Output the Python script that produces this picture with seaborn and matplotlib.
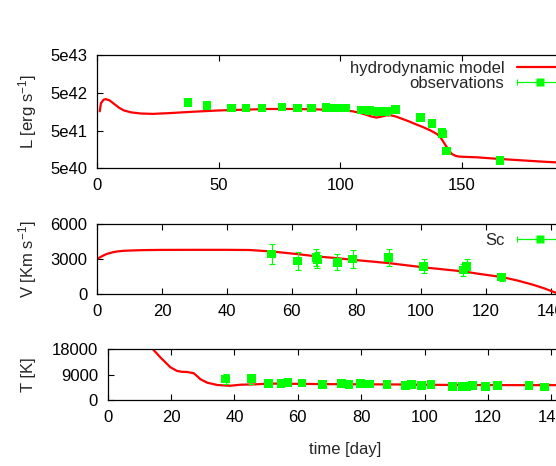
import numpy as np
import matplotlib
matplotlib.use("Agg")
import matplotlib.pyplot as plt
import matplotlib.transforms as mtransforms
from matplotlib.lines import Line2D
from matplotlib.legend_handler import HandlerErrorbar
import seaborn as sns

# ---------------- data ----------------
# Luminosity panel
model_L_day = [1.0, 1.5, 2.5, 3.5, 5, 7, 9, 11, 14, 18, 23, 30, 40, 50, 60, 70, 80, 90, 100,
               105, 108, 111, 113, 115, 117, 119, 121, 123, 125, 128, 131, 134, 137, 140,
               141.5, 143, 144.5, 146, 147.5, 149, 152, 156, 165, 175, 185, 200]
model_L = [1.62e42, 2.63e42, 3.24e42, 3.39e42, 3.16e42, 2.51e42, 2.0e42, 1.70e42, 1.51e42,
           1.41e42, 1.38e42, 1.45e42, 1.58e42, 1.70e42, 1.78e42, 1.86e42, 1.86e42, 1.82e42,
           1.72e42, 1.62e42, 1.48e42, 1.29e42, 1.17e42, 1.10e42, 1.17e42, 1.26e42, 1.26e42,
           1.17e42, 1.05e42, 8.9e41, 7.4e41, 6.2e41, 5.1e41, 4.0e41, 3.16e41, 2.24e41,
           1.58e41, 1.20e41, 1.07e41, 1.02e41, 1.0e41, 9.8e40, 8.9e40, 8.1e40, 7.4e40, 6.6e40]
obs_L_day = [37.3, 45.2, 55.0, 55.5, 61.3, 67.9, 76.1, 82.2, 82.6, 88.2, 94.1, 97.0, 100.0,
             102.1, 108.7, 112.0, 115.3, 119.1, 122.9, 133.1, 137.9, 142.0, 142.2, 143.8, 165.8]
obs_L = [2.75e42, 2.34e42, 2.0e42, 1.98e42, 2.0e42, 2.0e42, 2.09e42, 2.0e42, 1.95e42, 1.95e42,
         2.04e42, 1.95e42, 1.95e42, 2.0e42, 1.74e42, 1.70e42, 1.62e42, 1.62e42, 1.82e42,
         1.12e42, 7.6e41, 4.5e41, 4.0e41, 1.45e41, 8.1e40]

# Velocity panel
model_V_day = [0, 1, 2, 3, 4.5, 6, 8, 10.5, 14, 20, 30, 40, 47, 54, 62, 68, 74, 79, 90, 101,
               113, 118, 125, 130, 134.5, 138, 140.7, 142.5, 143.5]
model_V = [3030, 3180, 3330, 3450, 3570, 3650, 3710, 3740, 3770, 3790, 3795, 3795, 3780, 3651,
           3425, 3227, 3085, 2944, 2661, 2293, 1953, 1740, 1472, 1160, 820, 510, 226, 40, 0]
obs_V_day = [53.8, 61.9, 67.6, 68.0, 74.1, 78.9, 90.0, 100.8, 112.9, 114.1, 124.9]
obs_V = [3450, 2830, 3150, 2950, 2720, 3030, 3140, 2380, 2090, 2380, 1470]
obs_V_err = [880, 740, 750, 700, 680, 750, 760, 600, 520, 600, 300]

# Temperature panel
model_T_day = [12, 14.3, 16.6, 19.8, 21.9, 23.5, 25.1, 27.2, 29.3, 31.4, 34.6, 38.5, 42, 46,
               51, 60, 70, 90, 110, 130, 150]
model_T = [21000, 18000, 15180, 11650, 10340, 10050, 9990, 9530, 7410, 6210, 5400, 5130, 5500,
           5600, 5900, 5800, 5700, 5600, 5400, 5350, 5350]
obs_T_day = [37.2, 45.3, 50.7, 54.7, 55.5, 56.9, 61.3, 67.8, 73.7, 76.2, 79.8, 81.2, 82.7, 88.2,
             93.9, 95.8, 99.1, 102.0, 108.9, 111.9, 113.4, 115.1, 119.2, 123.1, 133.0, 137.9]
obs_T = [7510, 7630, 5960, 5960, 6080, 6320, 6080, 5600, 5960, 5480, 5960, 5720, 5720, 5600,
         5245, 5480, 5245, 5600, 4890, 4890, 4890, 5245, 4890, 5245, 5130, 4650]
obs_T_err = [1750, 1800, 500, 500, 500, 500, 500, 500, 500, 500, 500, 500, 500, 500,
             500, 500, 500, 500, 500, 500, 500, 500, 500, 500, 500, 500]

L_ticks = [5e40, 5e41, 5e42, 5e43]
L_ticklabels = ["5e40", "5e41", "5e42", "5e43"]
V_ticks = [0, 3000, 6000]
T_ticks = [0, 9000, 18000]

# ---------------- style ----------------
sns.set_style("ticks")
plt.rcParams["font.family"] = ["Liberation Sans", "DejaVu Sans"]
plt.rcParams["mathtext.default"] = "regular"
plt.rcParams["font.size"] = 12

RED = "#ff0000"
GREEN = "#00ff00"
W, H = 556, 466

fig = plt.figure(figsize=(W / 100, H / 100), dpi=100)
fig.patch.set_facecolor("white")


def add_ax(left, right, top, bottom):
    return fig.add_axes([left / W, 1 - bottom / H, (right - left) / W, (bottom - top) / H])


ax1 = add_ax(97.3, 583, 55, 168.3)
ax2 = add_ax(97.3, 583, 224, 294.3)
ax3 = add_ax(107.7, 583, 349.3, 400.3)

for ax in (ax1, ax2, ax3):
    ax.tick_params(direction="in", length=4, width=0.8, top=True, right=True,
                   labelsize=12, pad=7, colors="black")
    for s in ax.spines.values():
        s.set_linewidth(0.9)
        s.set_color("black")
    ax.set_facecolor("white")

MS = 38

# ---- top: luminosity ----
sns.lineplot(x=model_L_day, y=model_L, ax=ax1, color=RED, lw=1.6, sort=False,
             estimator=None, legend=False, zorder=2)
sns.scatterplot(x=obs_L_day, y=obs_L, ax=ax1, marker="s", s=MS, color=GREEN,
                edgecolor="none", linewidth=0, zorder=3, legend=False)
ax1.set_yscale("log")
ax1.set_xlim(0, 200)
ax1.set_ylim(5e40, 5e43)
ax1.set_xticks([0, 50, 100, 150, 200])
ax1.set_yticks(L_ticks)
ax1.set_yticklabels(L_ticklabels)
ax1.yaxis.set_minor_locator(matplotlib.ticker.NullLocator())
ax1.set_xlabel("")
ax1.set_ylabel("L [erg s$^{-1}$]", fontsize=12)

# ---- middle: velocity ----
sns.lineplot(x=model_V_day, y=model_V, ax=ax2, color=RED, lw=1.6, sort=False,
             estimator=None, legend=False, zorder=2)
ax2.errorbar(obs_V_day, obs_V, yerr=obs_V_err, fmt="none", ecolor=GREEN, elinewidth=0.8,
             capsize=2.5, capthick=0.8, zorder=3)
sns.scatterplot(x=obs_V_day, y=obs_V, ax=ax2, marker="s", s=MS, color=GREEN,
                edgecolor="none", linewidth=0, zorder=4, legend=False)
ax2.set_xlim(0, 150)
ax2.set_ylim(0, 6000)
ax2.set_xticks(range(0, 160, 20))
ax2.set_yticks(V_ticks)
ax2.set_xlabel("")
ax2.set_ylabel("V [Km s$^{-1}$]", fontsize=12)

# ---- bottom: temperature ----
sns.lineplot(x=model_T_day, y=model_T, ax=ax3, color=RED, lw=1.6, sort=False,
             estimator=None, legend=False, zorder=2)
ax3.errorbar(obs_T_day, obs_T, yerr=obs_T_err, fmt="none", ecolor=GREEN, elinewidth=0.8,
             capsize=2.5, capthick=0.8, zorder=3)
sns.scatterplot(x=obs_T_day, y=obs_T, ax=ax3, marker="s", s=MS, color=GREEN,
                edgecolor="none", linewidth=0, zorder=4, legend=False)
ax3.set_xlim(0, 150)
ax3.set_ylim(0, 18000)
ax3.set_xticks(range(0, 160, 20))
ax3.set_yticks(T_ticks)
ax3.set_ylabel("T [K]", fontsize=12)
ax3.set_xlabel("time [day]", fontsize=12)
ax3.xaxis.set_label_coords(0.5, 1 - 442 / H,
                           transform=mtransforms.blended_transform_factory(ax3.transAxes, fig.transFigure))

for ax in (ax1, ax2, ax3):
    ax.yaxis.set_label_coords(28 / W, 0.5,
                              transform=mtransforms.blended_transform_factory(fig.transFigure, ax.transAxes))
    ax.yaxis.label.set_va("center")

# ---- legends ----
proxy_line = Line2D([], [], color=RED, lw=1.6)
proxy_err = ax1.errorbar([np.nan], [np.nan], xerr=[1], fmt="-s", color=GREEN, ms=6.2,
                         lw=0.8, mec="none", capsize=2.5, capthick=0.8)
proxy_err2 = ax2.errorbar([np.nan], [np.nan], xerr=[1], fmt="-s", color=GREEN, ms=6.2,
                          lw=0.8, mec="none", capsize=2.5, capthick=0.8)
hl = 2.7
hmap = {type(proxy_err): HandlerErrorbar(xerr_size=hl / 2)}

leg1 = ax1.legend([proxy_line, proxy_err], ["hydrodynamic model", "observations"],
                  loc="upper right", bbox_to_anchor=(562 / W, 1 - 60.5 / H),
                  bbox_transform=fig.transFigure, frameon=False, markerfirst=False,
                  handlelength=hl, handletextpad=0.75, borderpad=0, borderaxespad=0,
                  labelspacing=0.0, numpoints=1, fontsize=12, handler_map=hmap)
leg2 = ax2.legend([proxy_err2], ["Sc"],
                  loc="upper right", bbox_to_anchor=(562 / W, 1 - 233 / H),
                  bbox_transform=fig.transFigure, frameon=False, markerfirst=False,
                  handlelength=hl, handletextpad=0.75, borderpad=0, borderaxespad=0,
                  numpoints=1, fontsize=12, handler_map=hmap)

fig.savefig("out.png", dpi=100, facecolor="white")
